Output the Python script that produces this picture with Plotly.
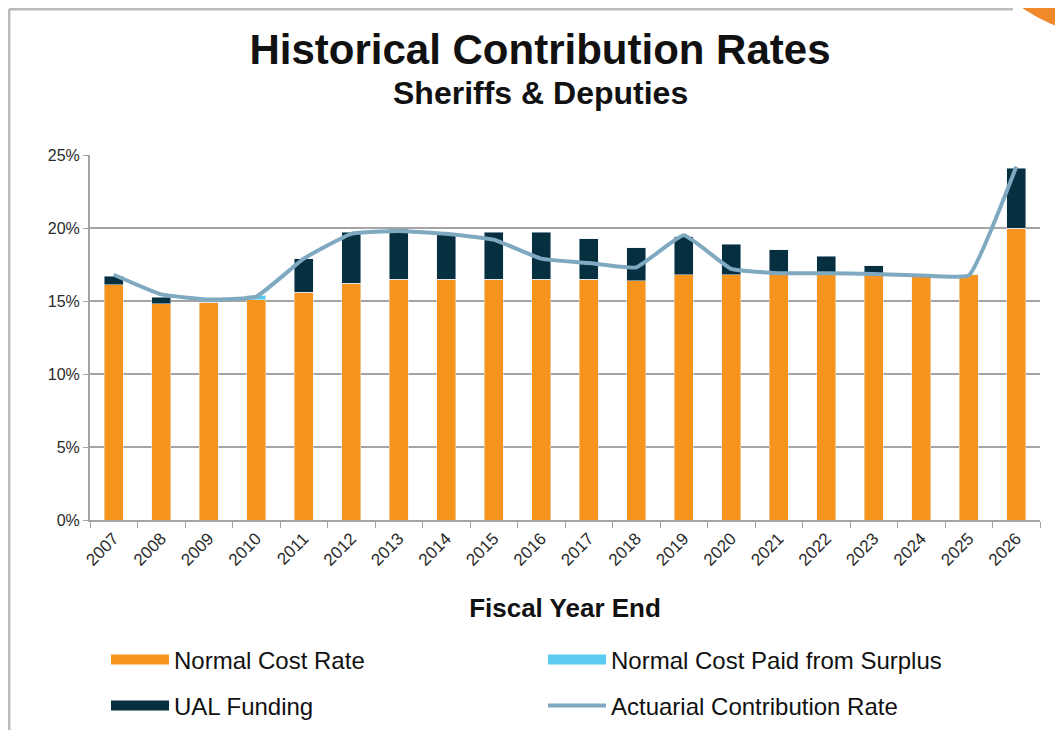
import plotly.graph_objects as go

years = [str(y) for y in range(2007, 2027)]

# rates in percent of payroll
normal_cost = [16.1, 14.8, 14.9, 15.1, 15.6, 16.2, 16.5, 16.5, 16.5, 16.5,
               16.5, 16.4, 16.8, 16.8, 16.8, 16.8, 16.8, 16.7, 16.8, 20.0]
surplus_paid = [0, 0, 0, 0.3, 0, 0, 0, 0, 0, 0,
                0, 0, 0, 0, 0, 0, 0, 0, 0, 0]
ual_funding = [0.6, 0.45, 0, 0, 2.3, 3.5, 3.4, 3.1, 3.2, 3.2,
               2.75, 2.25, 2.6, 2.1, 1.7, 1.25, 0.6, 0, 0, 4.1]
actuarial_rate = [16.8, 15.45, 15.1, 15.3, 17.9, 19.6, 19.8, 19.6, 19.2, 17.9,
                  17.6, 17.3, 19.5, 17.2, 16.9, 16.9, 16.85, 16.75, 16.75, 24.2]
y_ticks = [0, 5, 10, 15, 20, 25]

ORANGE = "#F7941E"
SKY = "#5CCBF2"
NAVY = "#06303F"
STEEL = "#7EA9C0"
GRID = "#A4A4A4"
FONT = "Liberation Sans, Arial, sans-serif"

# the page body adds an 8px margin, so the figure is drawn 8px in from the window
OFF = 8
W, H = 1063 - 2 * OFF, 738 - 2 * OFF
# plot area in window pixels
L, R, T, B = 90, 1040, 155, 520


def px_x(p):
    return (p - L) / (R - L)


def px_y(p):
    return (B - p) / (B - T)


def cx(p):
    return (p - OFF) / W


def cy(p):
    return 1 - (p - OFF) / H


fig = go.Figure()
fig.add_trace(go.Bar(x=years, y=normal_cost, marker_color=ORANGE, showlegend=False))
fig.add_trace(go.Bar(x=years, y=surplus_paid, marker_color=SKY, showlegend=False))
fig.add_trace(go.Bar(x=years, y=ual_funding, marker_color=NAVY, showlegend=False))

# legend swatches, one legend box per entry so the 2x2 grid sits exactly
for name, color, lg in [("Normal Cost Rate", ORANGE, "legend"),
                        ("Normal Cost Paid from Surplus", SKY, "legend2"),
                        ("UAL Funding", NAVY, "legend3")]:
    fig.add_trace(go.Scatter(x=[None], y=[None], mode="lines", name=name,
                             line=dict(color=color, width=14), legend=lg))

fig.add_trace(go.Scatter(
    x=years, y=actuarial_rate, mode="lines", name="Actuarial Contribution Rate",
    line=dict(color=STEEL, width=4, shape="spline", smoothing=0.35),
    legend="legend4",
))

legend_common = dict(
    orientation="h", xanchor="left", yanchor="middle", itemwidth=58,
    xref="container", yref="container",
    font=dict(family=FONT, size=24, color="#111111"),
    bgcolor="rgba(0,0,0,0)",
)

fig.update_layout(
    width=W, height=H,
    margin=dict(l=L - OFF, r=W - (R - OFF), t=T - OFF, b=H - (B - OFF)),
    paper_bgcolor="white", plot_bgcolor="white",
    barmode="stack", bargap=0.6,
    font=dict(family=FONT, color="#222222"),
    title=dict(
        text="<b>Historical Contribution Rates</b>",
        x=px_x(540), xref="paper", xanchor="center",
        y=cy(49), yanchor="middle",
        font=dict(family=FONT, size=42, color="#111111"),
    ),
    legend=dict(x=cx(106), y=cy(660), **legend_common),
    legend2=dict(x=cx(543), y=cy(660), **legend_common),
    legend3=dict(x=cx(106), y=cy(706), **legend_common),
    legend4=dict(x=cx(543), y=cy(706), **legend_common),
    annotations=[dict(
        text="<b>Sheriffs & Deputies</b>", xref="paper", yref="paper",
        x=px_x(540), y=px_y(93), showarrow=False, yanchor="middle",
        font=dict(family=FONT, size=32, color="#111111"),
    )],
    shapes=[
        dict(type="line", xref="paper", yref="paper", x0=px_x(OFF + 1), x1=px_x(1013),
             y0=px_y(OFF + 1), y1=px_y(OFF + 1), line=dict(color="#BBBBBB", width=3)),
        dict(type="line", xref="paper", yref="paper", x0=px_x(OFF + 1), x1=px_x(OFF + 1),
             y0=px_y(OFF + 1), y1=px_y(740), line=dict(color="#BBBBBB", width=3)),
        dict(type="circle", xref="paper", yref="paper", x0=px_x(967), x1=px_x(1233),
             y0=px_y(33), y1=px_y(-233), fillcolor="#F0892A", line=dict(width=0)),
    ],
)

fig.update_xaxes(
    type="category", tickangle=-45, tickson="boundaries", automargin=False,
    ticks="outside", ticklen=6, tickcolor=GRID,
    showline=True, linecolor=GRID, linewidth=2,
    tickfont=dict(size=17, color="#2A2A2A"),
    title=dict(text="<b>Fiscal Year End</b>", standoff=30,
               font=dict(size=26, color="#111111")),
)
fig.update_yaxes(
    range=[0, 25], tickmode="array", tickvals=y_ticks,
    ticktext=[f"{v}%" for v in y_ticks], automargin=False,
    ticks="outside", ticklen=5, tickcolor=GRID,
    showline=True, linecolor=GRID, linewidth=2,
    showgrid=True, gridcolor=GRID, gridwidth=2, zeroline=False,
    tickfont=dict(size=16, color="#2A2A2A"),
)

fig.write_html("out.html")
